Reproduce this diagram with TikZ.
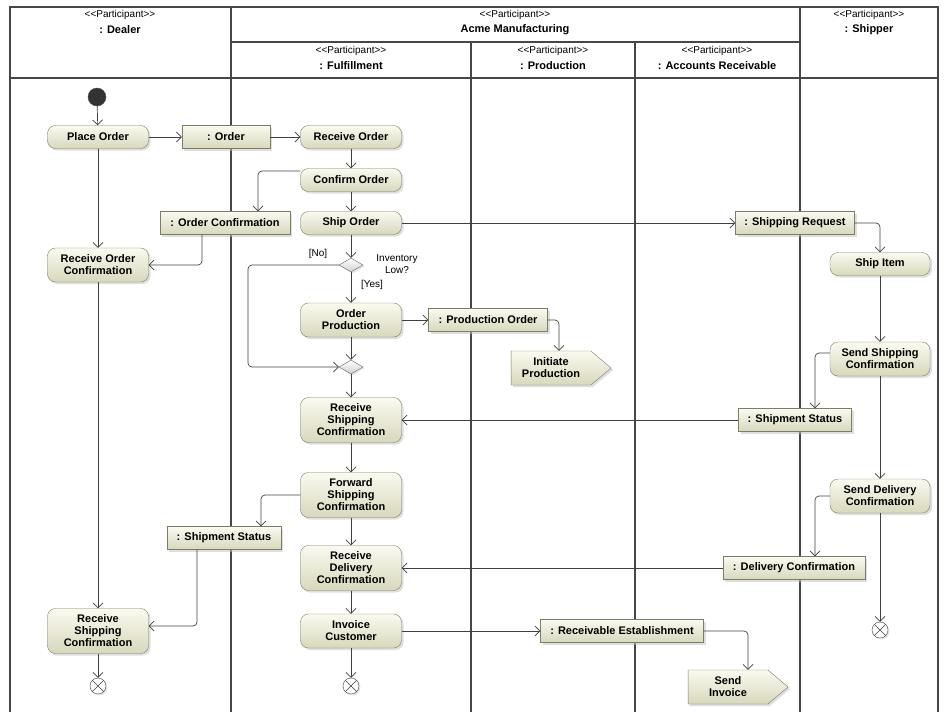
\documentclass[tikz,border=0pt]{standalone}
\usepackage{fontspec}
\setmainfont{Liberation Sans}
\usetikzlibrary{arrows.meta,shapes.geometric,shapes.symbols,shadows}
\definecolor{actfill}{HTML}{FAFAF0}
\definecolor{actshade}{HTML}{D8D8BC}
\definecolor{actline}{HTML}{7C7C68}
\definecolor{laneline}{HTML}{474747}
\definecolor{flowline}{HTML}{404040}

\begin{document}
\begin{tikzpicture}[x=1pt,y=-1pt,font=\fontsize{11}{12}\selectfont\bfseries]
        \tikzset{lane/.style = {draw=laneline, line width=1.8pt}}
        \tikzset{stereo/.style = {font=\fontsize{10}{10}\selectfont, inner sep=0pt}}
        \tikzset{lanename/.style = {font=\fontsize{11}{12}\selectfont\bfseries, inner sep=0pt}}
        \tikzset{action/.style = {rectangle, rounded corners=8pt, draw=actline, top color=actfill, bottom color=actshade,
                minimum width=101pt, minimum height=23pt, align=center, inner sep=3pt,
                drop shadow={shadow xshift=2pt, shadow yshift=-2pt, fill=black!25}}}
        \tikzset{object/.style = {rectangle, draw=actline, top color=actfill, bottom color=actshade,
                minimum height=23pt, inner sep=3pt,
                drop shadow={shadow xshift=2pt, shadow yshift=-2pt, fill=black!25}}}
        \tikzset{sendsig/.style = {shape=signal, signal to=east, signal pointer angle=80, draw=actline,
                top color=actfill, bottom color=actshade, minimum width=100pt, minimum height=34pt,
                align=center, inner sep=3pt, drop shadow={shadow xshift=2pt, shadow yshift=-2pt, fill=black!25}}}
        \tikzset{choice/.style = {diamond, draw=black!60, top color=white, bottom color=black!18,
                minimum width=24pt, minimum height=14pt, inner sep=0pt,
                drop shadow={shadow xshift=1.5pt, shadow yshift=-1.5pt, fill=black!20}}}
        \tikzset{initial/.style = {circle, draw=black!70, fill=black!80, minimum size=18pt, inner sep=0pt}}
        \tikzset{final/.style = {circle, draw=black!75, fill=white, minimum size=16pt, inner sep=0pt,
                drop shadow={shadow xshift=1.5pt, shadow yshift=-1.5pt, fill=black!20},
                path picture={\draw[black!75] (path picture bounding box.north west) -- (path picture bounding box.south east)
                (path picture bounding box.north east) -- (path picture bounding box.south west);}}}
        \tikzset{guard/.style = {font=\fontsize{10}{12}\selectfont, align=center, inner sep=0pt}}
        \tikzset{edge/.style = {draw=flowline, line width=0.7pt, -{Straight Barb[length=5pt,width=10pt]}, rounded corners=4pt}}
        \useasboundingbox (0,0) rectangle (948,721);
        % lanes
        \draw[lane] (10,712) -- (10,7) -- (938,7) -- (938,712);
        \draw[lane] (10,78) -- (938,78);
        \draw[lane] (231,7) -- (231,712);
        \draw[lane] (800,7) -- (800,712);
        \draw[lane] (231,42) -- (800,42);
        \draw[lane] (471,42) -- (471,712);
        \draw[lane] (635,42) -- (635,712);
        \node[stereo] (dealerst) at (120,15) {<{}<Participant>{}>};
        \node[lanename] (dealer) at (120,30) {: Dealer};
        \node[stereo] (acmest) at (515,15) {<{}<Participant>{}>};
        \node[lanename] (acme) at (515,30) {Acme Manufacturing};
        \node[stereo] (shipperst) at (869,15) {<{}<Participant>{}>};
        \node[lanename] (shipper) at (869,30) {: Shipper};
        \node[stereo] (fulfilst) at (351,51) {<{}<Participant>{}>};
        \node[lanename] (fulfil) at (351,66) {: Fulfillment};
        \node[stereo] (prodst) at (553,51) {<{}<Participant>{}>};
        \node[lanename] (prod) at (553,66) {: Production};
        \node[stereo] (accst) at (717,51) {<{}<Participant>{}>};
        \node[lanename] (acc) at (717,66) {: Accounts Receivable};
        % nodes
        \node[initial] (start) at (97,97) {};
        \node[action] (placeorder) at (98,137) {Place Order};
        \node[object, minimum width=88pt] (order) at (226,137) {: Order};
        \node[action] (recorder) at (351,137) {Receive Order};
        \node[action] (confirm) at (351,180) {Confirm Order};
        \node[object, minimum width=130pt] (orderconf) at (225,223) {: Order Confirmation};
        \node[action] (shiporder) at (351,223) {Ship Order};
        \node[action, minimum height=34pt] (recconf) at (98,265) {Receive Order\\Confirmation};
        \node[choice] (inventory) at (351,265) {};
        \node[guard] (nolabel) at (318,254) {[No]};
        \node[guard] (lowlabel) at (397,264) {Inventory\\Low?};
        \node[guard] (yeslabel) at (372,285) {[Yes]};
        \coordinate (nobend) at (248,265);
        \node[action, minimum height=34pt] (orderprod) at (351,320) {Order\\Production};
        \node[object, minimum width=119pt] (prodorder) at (488,320) {: Production Order};
        \node[sendsig] (initprod) at (551,368) {Initiate\\Production};
        \node[choice] (merge) at (351,367) {};
        \node[action, minimum height=45pt] (recship) at (351,420) {Receive\\Shipping\\Confirmation};
        \node[object, minimum width=113pt] (statusright) at (795,420) {: Shipment Status};
        \node[action, minimum height=45pt] (fwdship) at (351,495) {Forward\\Shipping\\Confirmation};
        \node[object, minimum width=114pt] (statusleft) at (224,538) {: Shipment Status};
        \node[action, minimum height=45pt] (recdeliv) at (351,568) {Receive\\Delivery\\Confirmation};
        \node[object, minimum width=142pt] (delivconf) at (794,568) {: Delivery Confirmation};
        \node[action, minimum height=34pt] (invoice) at (351,631) {Invoice\\Customer};
        \node[object, minimum width=163pt] (receivable) at (622,631) {: Receivable Establishment};
        \node[sendsig] (sendinv) at (728,687) {Send\\Invoice};
        \node[final] (endfulfil) at (351,686) {};
        \node[action, minimum height=45pt] (dealership) at (98,631) {Receive\\Shipping\\Confirmation};
        \node[final] (enddealer) at (98,686) {};
        \node[object, minimum width=119pt] (shipreq) at (795,223) {: Shipping Request};
        \node[action, minimum width=100pt] (shipitem) at (880,264) {Ship Item};
        \node[action, minimum width=100pt, minimum height=34pt] (sendship) at (880,359) {Send Shipping\\Confirmation};
        \node[action, minimum width=100pt, minimum height=34pt] (senddeliv) at (880,496) {Send Delivery\\Confirmation};
        \node[final] (endshipper) at (880,630) {};
        %edges
        \draw[edge] (start) -- (placeorder);
        \draw[edge] (placeorder) -- (order);
        \draw[edge] (order) -- (recorder);
        \draw[edge] (recorder) -- (confirm);
        \draw[edge] ([yshift=9pt]confirm.west) -| ([xshift=33pt]orderconf.north);
        \draw[edge] (confirm) -- (shiporder);
        \draw[edge] ([xshift=-23pt]orderconf.south) |- (recconf.east);
        \draw[edge] (placeorder) -- (recconf);
        \draw[edge] (recconf) -- (dealership);
        \draw[edge] (shiporder) -- (shipreq);
        \draw[edge] (shipreq.east) -| (shipitem.north);
        \draw[edge] (shiporder) -- (inventory);
        \draw[edge] (inventory) -- (orderprod);
        \draw[edge] (inventory.west) -- (nobend) |- (merge.west);
        \draw[edge] (orderprod) -- (prodorder);
        \draw[edge] (prodorder.east) -| ([xshift=8pt]initprod.north);
        \draw[edge] (orderprod) -- (merge);
        \draw[edge] (merge) -- (recship);
        \draw[edge] (shipitem) -- (sendship);
        \draw[edge] ([yshift=6pt]sendship.west) -| ([xshift=20pt]statusright.north);
        \draw[edge] (statusright) -- (recship);
        \draw[edge] (recship) -- (fwdship);
        \draw[edge] (fwdship.west) -| ([xshift=37pt]statusleft.north);
        \draw[edge] ([xshift=-27pt]statusleft.south) |- ([yshift=5pt]dealership.east);
        \draw[edge] (fwdship) -- (recdeliv);
        \draw[edge] (sendship) -- (senddeliv);
        \draw[edge] (senddeliv.west) -| ([xshift=21pt]delivconf.north);
        \draw[edge] (delivconf) -- (recdeliv);
        \draw[edge] (recdeliv) -- (invoice);
        \draw[edge] (invoice) -- (receivable);
        \draw[edge] (receivable.east) -| ([xshift=20pt]sendinv.north);
        \draw[edge] (invoice) -- (endfulfil);
        \draw[edge] (dealership) -- (enddealer);
        \draw[edge] (senddeliv) -- (endshipper);
\end{tikzpicture}
\end{document}
